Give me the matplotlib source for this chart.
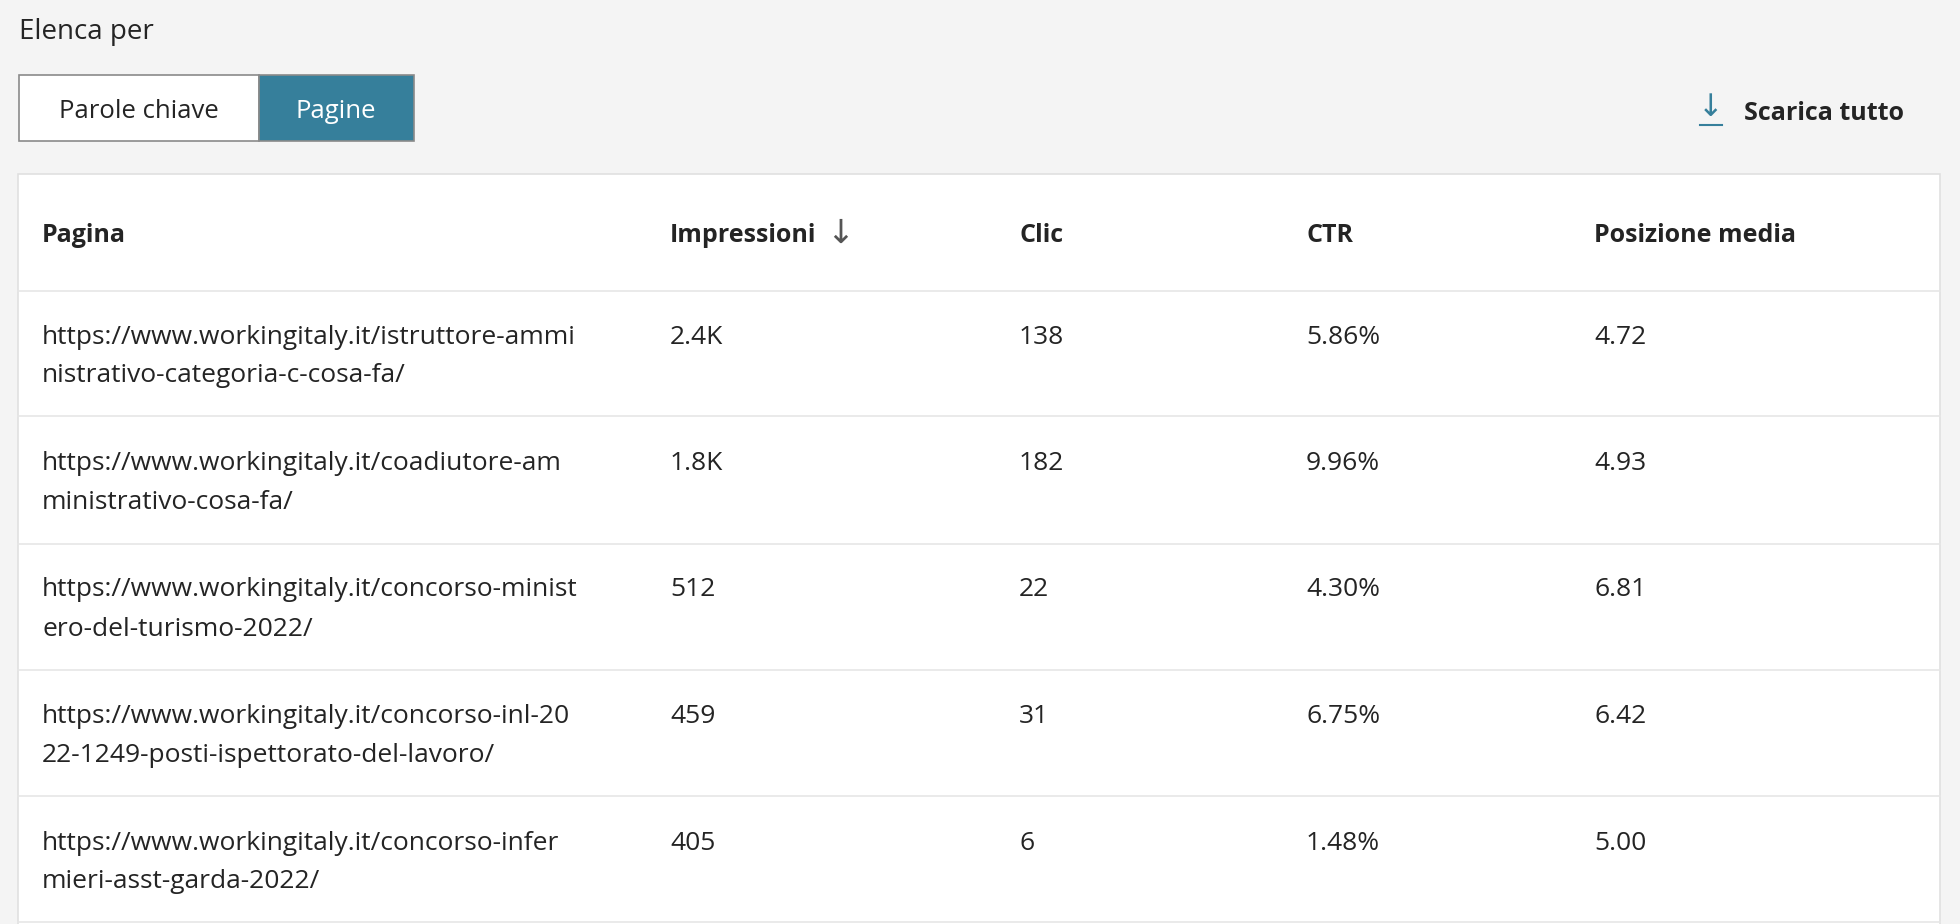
import matplotlib
matplotlib.use("Agg")
import matplotlib.pyplot as plt
from matplotlib.patches import Rectangle

plt.rcParams['font.family'] = ['Open Sans', 'DejaVu Sans']

headers = ["Pagina", "Impressioni", "Clic", "CTR", "Posizione media"]
pages = [
    ("https://www.workingitaly.it/istruttore-ammi", "nistrativo-categoria-c-cosa-fa/"),
    ("https://www.workingitaly.it/coadiutore-am", "ministrativo-cosa-fa/"),
    ("https://www.workingitaly.it/concorso-minist", "ero-del-turismo-2022/"),
    ("https://www.workingitaly.it/concorso-inl-20", "22-1249-posti-ispettorato-del-lavoro/"),
    ("https://www.workingitaly.it/concorso-infer", "mieri-asst-garda-2022/"),
]
impressions = ["2.4K", "1.8K", "512", "459", "405"]
clicks = ["138", "182", "22", "31", "6"]
ctr = ["5.86%", "9.96%", "4.30%", "6.75%", "1.48%"]
position = ["4.72", "4.93", "6.81", "6.42", "5.00"]

W, H = 1960, 924
fig = plt.figure(figsize=(W/100, H/100), dpi=100)
fig.patch.set_facecolor('#f4f4f4')
ax = fig.add_axes([0, 0, 1, 1])
ax.set_xlim(0, W); ax.set_ylim(H, 0); ax.axis('off')

txt = '#242424'
ax.text(19, 32, "Elenca per", fontsize=20, color=txt, va='center')

# toggle buttons
ax.add_patch(Rectangle((19, 75), 240, 66, facecolor='white', edgecolor='#8a8a8a', lw=1.2))
ax.add_patch(Rectangle((259, 75), 155, 66, facecolor='#367f9b', edgecolor='#8a8a8a', lw=1.2))
ax.text(139, 111, "Parole chiave", fontsize=18.5, color=txt, ha='center', va='center')
ax.text(336, 111, "Pagine", fontsize=18.5, color='white', ha='center', va='center')

# download
ax.text(1711, 108, "↓", fontsize=22, color='#367f9b', ha='center', va='center', family='DejaVu Sans')
ax.plot([1700, 1722], [125, 125], color='#367f9b', lw=1.5)
ax.text(1744, 113, "Scarica tutto", fontsize=18, color=txt, ha='left', va='center', fontweight='bold')

# card
ax.add_patch(Rectangle((18, 174), 1922, 760, facecolor='white', edgecolor='#e0e0e0', lw=1.2))

colx = [42, 670, 1019, 1306, 1594]
for x, h in zip(colx, headers):
    ax.text(x, 235, h, fontsize=18, color=txt, va='center', fontweight='bold')
ax.text(840, 233, "↓", fontsize=24, color='#555555', va='center', ha='center', family='DejaVu Sans')

lines = [291, 416, 544, 670, 796, 922]
for y in lines:
    ax.plot([18, 1940], [y, y], color='#e6e6e6', lw=1.2)

for i in range(len(pages)):
    y0 = 337 + i * 126.5
    ax.text(colx[0], y0, pages[i][0], fontsize=19, color=txt, va='center')
    ax.text(colx[0], y0 + 39, pages[i][1], fontsize=19, color=txt, va='center')
    for x, v in zip(colx[1:], [impressions[i], clicks[i], ctr[i], position[i]]):
        ax.text(x, y0, v, fontsize=19, color=txt, va='center')

fig.savefig("out.png", dpi=100, facecolor=fig.get_facecolor())
